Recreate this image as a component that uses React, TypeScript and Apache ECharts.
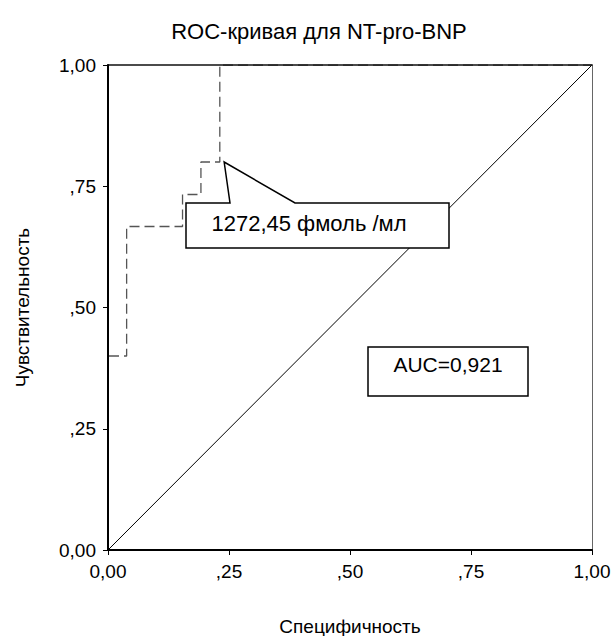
import React, { useEffect, useRef } from "react";
import * as echarts from "echarts";

// ROC curve (1 - specificity on x, sensitivity on y)
const rocX = [0, 0, 0.0385, 0.0385, 0.154, 0.154, 0.192, 0.192, 0.231, 0.231, 1];
const rocY = [0, 0.4, 0.4, 0.667, 0.667, 0.733, 0.733, 0.8, 0.8, 1, 1];
const diagX = [0, 1];
const diagY = [0, 1];
const tickValues = [0, 0.25, 0.5, 0.75, 1];
const tickLabels = ["0,00", ",25", ",50", ",75", "1,00"];
const titleText = "ROC-кривая для NT-pro-BNP";
const xName = "Специфичность";
const yName = "Чувствительность";
const cutoffText = "1272,45 фмоль /мл";
const aucText = "AUC=0,921";

const FONT = "'Liberation Sans', Arial, Helvetica, sans-serif";
const G = { left: 108, top: 65, width: 484, height: 485 };
const px = (v: number) => G.left + v * G.width;
const py = (v: number) => G.top + (1 - v) * G.height;

const labelFor = (v: number) => {
  const i = tickValues.findIndex((t) => Math.abs(t - v) < 1e-6);
  return i >= 0 ? tickLabels[i] : "";
};

export default function App() {
  const ref = useRef<HTMLDivElement>(null);
  useEffect(() => {
    if (!ref.current) return;
    const chart = echarts.init(ref.current, undefined, { renderer: "svg" });
    const axisCommon = {
      type: "value" as const,
      min: 0,
      max: 1,
      interval: 0.25,
      z: 5,
      splitLine: { show: false },
      axisLine: { show: true, lineStyle: { color: "#000", width: 2 } },
      axisTick: { show: true, length: 5, lineStyle: { color: "#000", width: 1 } },
      nameTextStyle: { color: "#000", fontSize: 19, fontFamily: FONT },
    };
    const frameAxis = (position: string, color: string, width: number) => ({
      type: "value" as const,
      min: 0,
      max: 1,
      interval: 0.25,
      position,
      z: 4,
      splitLine: { show: false },
      axisTick: { show: false },
      axisLabel: { show: false },
      axisLine: { show: true, onZero: false, lineStyle: { color, width } },
    });
    const tipX = px(0.24);
    const tipY = py(0.8);
    const boxL = 186, boxR = 449, boxT = 203, boxB = 248;
    chart.setOption({
      animation: false,
      backgroundColor: "#fff",
      title: {
        text: titleText,
        left: 314,
        textAlign: "center",
        top: 15,
        textStyle: { color: "#000", fontSize: 22, fontWeight: "normal", fontFamily: FONT },
      },
      grid: {
        left: G.left,
        top: G.top,
        width: G.width,
        height: G.height,
        outerBoundsMode: "none",
        containLabel: false,
        show: false,
      },
      xAxis: [
        {
          ...axisCommon,
          position: "bottom",
          name: xName,
          nameLocation: "middle",
          nameGap: 67,
          axisLine: { show: true, onZero: false, lineStyle: { color: "#000", width: 2 } },
          axisLabel: {
            color: "#000",
            fontSize: 19,
            fontFamily: FONT,
            margin: 12,
            formatter: (v: number) => labelFor(v),
          },
        },
        frameAxis("top", "#111", 1.5),
      ],
      yAxis: [
        {
          ...axisCommon,
          position: "left",
          name: yName,
          nameLocation: "middle",
          nameGap: 76,
          axisLine: { show: true, onZero: false, lineStyle: { color: "#000", width: 2 } },
          axisLabel: {
            color: "#000",
            fontSize: 19,
            fontFamily: FONT,
            margin: 12,
            formatter: (v: number) => labelFor(v),
          },
        },
        frameAxis("right", "#666", 1),
      ],
      series: [
        {
          type: "line",
          data: diagX.map((x, i) => [x, diagY[i]]),
          symbol: "none",
          lineStyle: { color: "#000", width: 1 },
          z: 2,
        },
        {
          type: "line",
          data: rocX.map((x, i) => [x, rocY[i]]),
          symbol: "none",
          lineStyle: { color: "#555", width: 1.3, type: [10, 5] },
          z: 3,
        },
      ],
      graphic: [
        {
          type: "polygon",
          z: 10,
          shape: {
            points: [
              [boxL, boxT],
              [230, boxT],
              [tipX, tipY],
              [295, boxT],
              [boxR, boxT],
              [boxR, boxB],
              [boxL, boxB],
            ],
          },
          style: { fill: "#fff", stroke: "#000", lineWidth: 1.5 },
        },
        {
          type: "text",
          z: 11,
          x: 309,
          y: 223,
          style: {
            text: cutoffText,
            fill: "#000",
            fontSize: 22,
            fontFamily: FONT,
            align: "center",
            verticalAlign: "middle",
          },
        },
        {
          type: "rect",
          z: 10,
          shape: { x: 368, y: 347, width: 160, height: 49 },
          style: { fill: "#fff", stroke: "#000", lineWidth: 1.5 },
        },
        {
          type: "text",
          z: 11,
          x: 448,
          y: 364,
          style: {
            text: aucText,
            fill: "#000",
            fontSize: 21,
            fontFamily: FONT,
            align: "center",
            verticalAlign: "middle",
          },
        },
      ],
    });
    return () => chart.dispose();
  }, []);
  return (
    <div
      ref={ref}
      style={{ position: "absolute", left: 0, top: 0, width: 614, height: 636 }}
    />
  );
}
